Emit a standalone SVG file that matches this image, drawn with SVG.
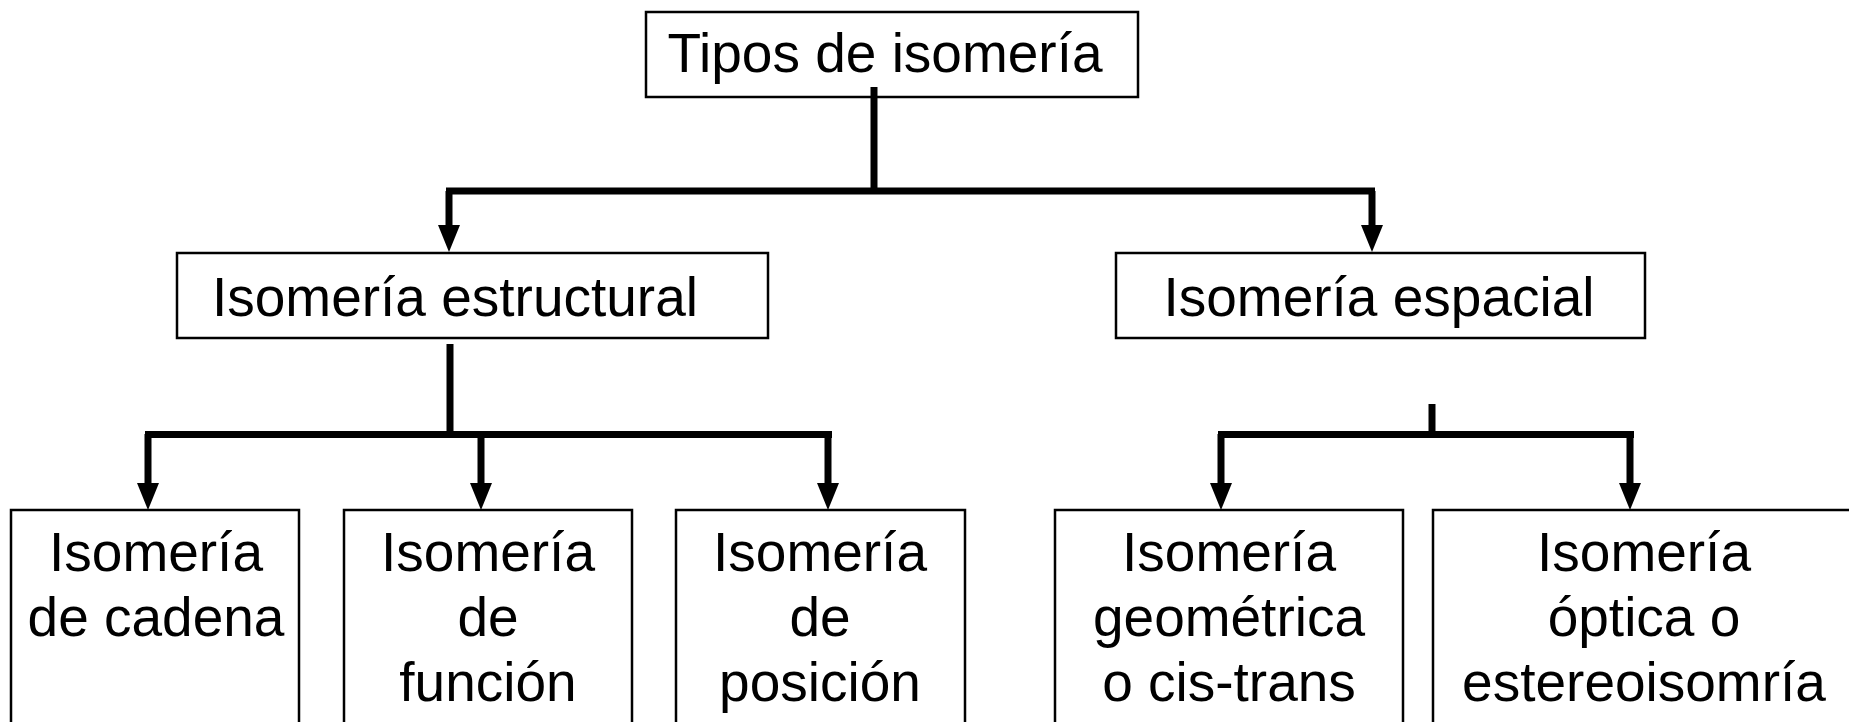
<svg xmlns="http://www.w3.org/2000/svg" width="1849" height="722" viewBox="0 0 1849 722">
<style>
.box{fill:#fff;stroke:#000;stroke-width:2.5}
.t{font-family:"Comic Sans MS","Liberation Sans","DejaVu Sans",sans-serif;font-size:55px;fill:#000;text-anchor:middle}
.c{fill:none;stroke:#000;stroke-width:7}
</style>
<defs>
<marker id="ah" markerUnits="userSpaceOnUse" markerWidth="27" markerHeight="22" viewBox="0 0 27 22" refX="7" refY="11" orient="auto">
<path d="M0,0 L27,11 L0,22 Z" fill="#000"/>
</marker>
</defs>
<rect width="1849" height="722" fill="#fff"/>
<g id="n-tipos"><rect class="box" x="646" y="12" width="492" height="85"/><text class="t" x="885" y="72">Tipos de isomería</text></g>
<g id="n-estructural"><rect class="box" x="177" y="253" width="591" height="85"/><text class="t" x="455" y="316">Isomería estructural</text></g>
<g id="n-espacial"><rect class="box" x="1116" y="253" width="529" height="85"/><text class="t" x="1379" y="316">Isomería espacial</text></g>
<g id="n-cadena"><rect class="box" x="11" y="510" width="288" height="230"/><text class="t" x="156" y="571">Isomería</text><text class="t" x="156" y="636">de cadena</text></g>
<g id="n-funcion"><rect class="box" x="344" y="510" width="288" height="230"/><text class="t" x="488" y="571">Isomería</text><text class="t" x="488" y="636">de</text><text class="t" x="488" y="701">función</text></g>
<g id="n-posicion"><rect class="box" x="676" y="510" width="289" height="230"/><text class="t" x="820" y="571">Isomería</text><text class="t" x="820" y="636">de</text><text class="t" x="820" y="701">posición</text></g>
<g id="n-geometrica"><rect class="box" x="1055" y="510" width="348" height="230"/><text class="t" x="1229" y="571">Isomería</text><text class="t" x="1229" y="636">geométrica</text><text class="t" x="1229" y="701">o cis-trans</text></g>
<g id="n-optica"><rect class="box" x="1433" y="510" width="430" height="230"/><text class="t" x="1644" y="571">Isomería</text><text class="t" x="1644" y="636">óptica o</text><text class="t" x="1644" y="701">estereoisomría</text></g>
<g id="connectors">
<line class="c" x1="874" y1="87" x2="874" y2="191"/>
<line class="c" x1="446" y1="191" x2="1375" y2="191"/>
<line class="c" x1="449" y1="191" x2="449" y2="232" marker-end="url(#ah)"/>
<line class="c" x1="1372" y1="191" x2="1372" y2="232" marker-end="url(#ah)"/>
<line class="c" x1="450" y1="344" x2="450" y2="434"/>
<line class="c" x1="145" y1="434.5" x2="832" y2="434.5"/>
<line class="c" x1="148" y1="434" x2="148" y2="490" marker-end="url(#ah)"/>
<line class="c" x1="481" y1="434" x2="481" y2="490" marker-end="url(#ah)"/>
<line class="c" x1="828" y1="434" x2="828" y2="490" marker-end="url(#ah)"/>
<line class="c" x1="1432" y1="404" x2="1432" y2="434"/>
<line class="c" x1="1218" y1="434.5" x2="1634" y2="434.5"/>
<line class="c" x1="1221" y1="434" x2="1221" y2="490" marker-end="url(#ah)"/>
<line class="c" x1="1630" y1="434" x2="1630" y2="490" marker-end="url(#ah)"/>
</g>
</svg>
